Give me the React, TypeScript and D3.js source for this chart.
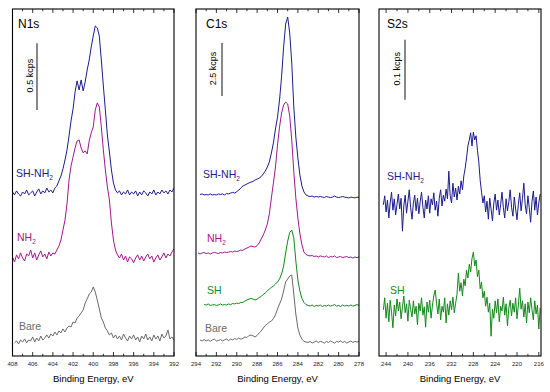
import React from "react";
import * as d3 from "d3";

// ---------- N1s (intensity in cps, 0.2 eV steps) ----------
const n1sStep = 0.2;
const n1sBlueStart = 408.0;
const n1sBlue = [
  1230, 1208, 1238, 1215, 1200, 1230, 1215, 1245, 1208, 1223,
  1238, 1200, 1230, 1253, 1215, 1238, 1223, 1260, 1230, 1245,
  1223, 1260, 1275, 1313, 1350, 1403, 1470, 1545, 1650, 1763,
  1853, 1980, 2063, 1995, 2070, 1988, 2055, 2145, 2220, 2318,
  2400, 2475, 2460, 2400, 2220, 2025, 1845, 1658, 1530, 1395,
  1298, 1245, 1223, 1238, 1208, 1230, 1215, 1245, 1208, 1230,
  1215, 1238, 1200, 1230, 1208, 1238, 1223, 1200, 1230, 1215,
  1245, 1208, 1230, 1215, 1245, 1223, 1238, 1215, 1245, 1230,
  1260,
];
const n1sMagentaStart = 408.0;
const n1sMagenta = [
  743, 705, 758, 728, 773, 735, 713, 765, 750, 795,
  735, 773, 720, 758, 788, 743, 765, 728, 780, 750,
  773, 765, 795, 825, 870, 945, 1020, 1140, 1320, 1425,
  1493, 1560, 1613, 1620, 1560, 1523, 1538, 1515, 1613, 1673,
  1718, 1845, 1898, 1868, 1718, 1545, 1395, 1268, 1170, 998,
  870, 795, 758, 735, 765, 720, 750, 705, 743, 728,
  698, 735, 758, 720, 750, 713, 743, 765, 728, 750,
  705, 735, 758, 720, 743, 773, 735, 765, 750, 780,
  803,
];
const n1sGrayStart = 407.8;
const n1sGray = [
  98, 113, 90, 120, 105, 128, 98, 120, 113, 143,
  105, 135, 113, 150, 120, 135, 158, 135, 165, 150,
  180, 158, 188, 173, 203, 180, 210, 225, 218, 255,
  248, 285, 300, 323, 345, 398, 428, 465, 480, 518,
  480, 420, 353, 285, 255, 210, 188, 158, 173, 135,
  158, 128, 150, 120, 165, 135, 113, 150, 128, 158,
  120, 143, 105, 150, 128, 165, 120, 143, 113, 158,
  128, 150, 113, 165, 135, 150, 195, 128, 143, 120,
];
const n1sDomainX = [408, 392];
const n1sDomainY = [0, 2602];
const n1sTicks = [408, 406, 404, 402, 400, 398, 396, 394, 392];
const n1sBar = 500; // 0.5 kcps
const n1sBarBase = 1845;

// ---------- C1s (intensity in kcps, 0.2 eV steps) ----------
const c1sStep = 0.2;
const c1sBlueStart = 293.6;
const c1sBlue = [
  7.63, 7.66, 7.61, 7.63, 7.61, 7.66, 7.61, 7.63, 7.61, 7.66,
  7.63, 7.66, 7.61, 7.68, 7.66, 7.70, 7.73, 7.70, 7.77, 7.84,
  7.94, 8.03, 8.08, 8.13, 8.18, 8.22, 8.25, 8.32, 8.36, 8.41,
  8.48, 8.60, 8.74, 8.93, 9.17, 9.59, 10.07, 10.73, 11.29, 12.10,
  13.19, 14.60, 15.69, 16.02, 15.26, 13.85, 11.77, 10.35, 9.36, 8.55,
  8.03, 7.75, 7.61, 7.56, 7.54, 7.56, 7.51, 7.54, 7.51, 7.54,
  7.51, 7.49, 7.54, 7.51, 7.49, 7.51, 7.56, 7.51, 7.49, 7.51,
  7.54, 7.51, 7.49, 7.47, 7.51, 7.49, 7.47, 7.51, 7.49,
];
const c1sMagentaStart = 293.8;
const c1sMagenta = [
  4.87, 4.82, 4.87, 4.89, 4.84, 4.87, 4.82, 4.87, 4.89, 4.87,
  4.84, 4.89, 4.87, 4.91, 4.89, 4.91, 4.94, 4.91, 4.96, 4.94,
  4.96, 5.01, 4.99, 5.06, 5.10, 5.15, 5.20, 5.17, 5.15, 5.22,
  5.34, 5.53, 5.72, 5.95, 6.24, 6.71, 7.47, 8.18, 8.93, 9.97,
  10.82, 11.48, 11.86, 12.00, 11.91, 11.34, 10.21, 8.70, 7.47, 6.52,
  5.77, 5.25, 4.91, 4.80, 4.75, 4.73, 4.75, 4.70, 4.73, 4.68,
  4.73, 4.70, 4.68, 4.73, 4.65, 4.70, 4.68, 4.73, 4.65, 4.68,
  4.70, 4.65, 4.68, 4.70, 4.65, 4.68, 4.63, 4.68, 4.65, 4.68,
];
const c1sGreenStart = 293.2;
const c1sGreen = [
  2.43, 2.41, 2.46, 2.39, 2.41, 2.43, 2.39, 2.41, 2.46, 2.41,
  2.43, 2.41, 2.46, 2.43, 2.48, 2.46, 2.50, 2.48, 2.53, 2.53,
  2.60, 2.65, 2.69, 2.72, 2.69, 2.65, 2.69, 2.76, 2.81, 2.91,
  2.98, 3.07, 3.17, 3.24, 3.31, 3.40, 3.50, 3.64, 3.88, 4.25,
  4.87, 5.43, 5.84, 5.95, 5.58, 4.49, 3.59, 3.07, 2.72, 2.53,
  2.43, 2.39, 2.36, 2.41, 2.34, 2.39, 2.36, 2.41, 2.34, 2.39,
  2.36, 2.41, 2.36, 2.39, 2.43, 2.36, 2.39, 2.34, 2.41, 2.36,
  2.39, 2.36, 2.41, 2.36, 2.39, 2.43, 2.39,
];
const c1sGrayStart = 293.6;
const c1sGray = [
  0.76, 0.71, 0.78, 0.71, 0.76, 0.69, 0.76, 0.80, 0.71, 0.73,
  0.78, 0.71, 0.76, 0.80, 0.73, 0.80, 0.76, 0.83, 0.78, 0.85,
  0.80, 0.83, 0.90, 0.87, 0.97, 0.99, 0.95, 0.90, 0.97, 1.09,
  1.18, 1.32, 1.44, 1.51, 1.61, 1.65, 1.77, 1.94, 2.22, 2.46,
  2.69, 3.07, 3.50, 3.64, 3.78, 3.83, 2.93, 1.98, 1.32, 0.99,
  0.80, 0.69, 0.66, 0.64, 0.69, 0.61, 0.66, 0.71, 0.64, 0.69,
  0.66, 0.61, 0.69, 0.64, 0.71, 0.66, 0.61, 0.69, 0.66, 0.71,
  0.64, 0.69, 0.61, 0.66, 0.71, 0.64, 0.69, 0.66, 0.69,
];
const c1sDomainX = [294, 278];
const c1sDomainY = [0, 16.4];
const c1sTicks = [294, 292, 290, 288, 286, 284, 282, 280, 278];
const c1sBar = 2.5; // 2.5 kcps
const c1sBarBase = 12.29;

// ---------- S2s (intensity in cps, 0.25 eV steps) ----------
const s2sStep = 0.25;
const s2sBlueStart = 244.5;
const s2sBlue = [
  252, 267, 240, 260, 230, 255, 273, 243, 262, 235,
  253, 270, 245, 263, 208, 250, 268, 238, 258, 277,
  247, 228, 255, 268, 242, 263, 237, 257, 273, 248,
  230, 260, 245, 267, 238, 262, 252, 272, 243, 258,
  233, 263, 277, 250, 268, 258, 278, 262, 308, 267,
  255, 288, 265, 280, 260, 283, 270, 292, 277, 300,
  313, 330, 350, 360, 372, 350, 373, 360, 367, 343,
  323, 293, 273, 255, 267, 240, 258, 228, 263, 245,
  225, 255, 270, 243, 260, 235, 252, 273, 247, 230,
  262, 242, 257, 277, 248, 233, 265, 245, 227, 253,
  272, 242, 262, 288, 252, 237, 267, 247, 223, 258,
  275, 243, 265, 235, 255, 270,
];
const s2sGreenStart = 244.5;
const s2sGreen = [
  77, 97, 63, 88, 57, 93, 73, 47, 85, 67,
  95, 75, 90, 62, 82, 100, 72, 87, 58, 93,
  78, 65, 92, 70, 83, 52, 88, 75, 97, 68,
  82, 48, 90, 73, 93, 63, 85, 100, 110, 88,
  70, 95, 60, 83, 73, 97, 55, 87, 68, 92,
  77, 98, 72, 88, 103, 138, 108, 122, 100, 128,
  117, 143, 130, 153, 140, 163, 173, 150, 160, 132,
  143, 112, 123, 97, 108, 83, 98, 73, 88, 33,
  78, 63, 92, 72, 95, 57, 83, 75, 98, 68,
  87, 50, 80, 93, 67, 88, 73, 97, 62, 85,
  113, 78, 92, 65, 87, 55, 90, 72, 97, 77,
  60, 92, 70, 85, 45, 80,
];
const s2sDomainX = [245.3, 215.6];
const s2sDomainY = [0, 578.3];
const s2sTicks = [244, 240, 236, 232, 228, 224, 220, 216];
const s2sBar = 100; // 0.1 kcps
const s2sBarBase = 427;

// ---------- styling ----------
const BLUE = "#1c1c8e";
const MAGENTA = "#a0178f";
const GREEN = "#13891a";
const GRAY = "#6a6a6a";
const FONT = "'Liberation Sans', Arial, Helvetica, sans-serif";
const TOP = 9;
const BOTTOM = 356;

type Series = { start: number; step: number; values: number[]; color: string };
type Label = { text: string; sub?: string; color: string; x: number; y: number };

function toPoints(s: Series): [number, number][] {
  return s.values.map((v, i) => [s.start - i * s.step, v]);
}

function Panel(props: {
  x0: number;
  x1: number;
  domainX: number[];
  domainY: number[];
  ticks: number[];
  minorStep: number;
  series: Series[];
  title: string;
  titleX: number;
  barX: number;
  barBase: number;
  barLen: number;
  barText: string;
  barTextX: number;
  labels: Label[];
}) {
  const { x0, x1, domainX, domainY, ticks, minorStep, series } = props;
  const xs = d3.scaleLinear().domain(domainX).range([x0, x1]);
  const ys = d3.scaleLinear().domain(domainY).range([BOTTOM, TOP]);
  const line = d3
    .line<[number, number]>()
    .x((d) => xs(d[0]))
    .y((d) => ys(d[1]));
  const hi = Math.max(domainX[0], domainX[1]);
  const lo = Math.min(domainX[0], domainX[1]);
  const first = ticks[ticks.length - 1];
  const minors = d3
    .range(Math.ceil((lo - first) / minorStep) * minorStep + first, hi + 1e-6, minorStep)
    .filter((v) => !ticks.some((t) => Math.abs(t - v) < 1e-6));
  const barTop = ys(props.barBase + props.barLen);
  const barBot = ys(props.barBase);
  return (
    <g>
      <defs>
        <clipPath id={"clip" + props.title}>
          <rect x={x0} y={TOP} width={x1 - x0} height={BOTTOM - TOP} />
        </clipPath>
      </defs>
      <g clipPath={`url(#clip${props.title})`}>
        {series.map((s, i) => (
          <path
            key={i}
            d={line(toPoints(s)) || ""}
            fill="none"
            stroke={s.color}
            strokeWidth={1}
            strokeLinejoin="round"
          />
        ))}
      </g>
      {ticks.map((t) => (
        <g key={"M" + t}>
          <line x1={xs(t)} x2={xs(t)} y1={BOTTOM} y2={BOTTOM - 4} stroke="#000" strokeWidth={0.8} />
          <line x1={xs(t)} x2={xs(t)} y1={TOP} y2={TOP + 4} stroke="#000" strokeWidth={0.8} />
          <text
            x={xs(t)}
            y={365.5}
            fontSize={6}
            textAnchor="middle"
            fontFamily={FONT}
            fill="#222"
          >
            {t}
          </text>
        </g>
      ))}
      {minors.map((t) => (
        <g key={"m" + t}>
          <line x1={xs(t)} x2={xs(t)} y1={BOTTOM} y2={BOTTOM - 2.2} stroke="#000" strokeWidth={0.8} />
          <line x1={xs(t)} x2={xs(t)} y1={TOP} y2={TOP + 2.2} stroke="#000" strokeWidth={0.8} />
        </g>
      ))}
      <rect
        x={x0}
        y={TOP}
        width={x1 - x0}
        height={BOTTOM - TOP}
        fill="none"
        stroke="#000"
        strokeWidth={1.1}
      />
      <text x={props.titleX} y={28} fontSize={12} fontFamily={FONT} fill="#000">
        {props.title}
      </text>
      <line x1={props.barX} x2={props.barX} y1={barTop} y2={barBot} stroke="#555" strokeWidth={1.4} />
      <text
        transform={`translate(${props.barTextX},${(barTop + barBot) / 2 - 1}) rotate(-90)`}
        fontSize={9}
        textAnchor="middle"
        fontFamily={FONT}
        fill="#000"
      >
        {props.barText}
      </text>
      {props.labels.map((l, i) => (
        <text key={i} x={l.x} y={l.y} fontSize={10.5} fontFamily={FONT} fill={l.color}>
          {l.text}
          {l.sub ? (
            <tspan fontSize={6.5} dy={3}>
              {l.sub}
            </tspan>
          ) : null}
        </text>
      ))}
      <text
        x={(x0 + x1) / 2}
        y={382}
        fontSize={9.5}
        textAnchor="middle"
        fontFamily={FONT}
        fill="#000"
      >
        Binding Energy, eV
      </text>
    </g>
  );
}

export default function App() {
  return (
    <svg
      width={550}
      height={392}
      style={{ position: "absolute", left: 0, top: 0, background: "#fff" }}
    >
      <rect x={0} y={0} width={550} height={392} fill="#fff" />
      <Panel
        x0={12.5}
        x1={174}
        domainX={n1sDomainX}
        domainY={n1sDomainY}
        ticks={n1sTicks}
        minorStep={1}
        series={[
          { start: n1sBlueStart, step: n1sStep, values: n1sBlue, color: BLUE },
          { start: n1sMagentaStart, step: n1sStep, values: n1sMagenta, color: MAGENTA },
          { start: n1sGrayStart, step: n1sStep, values: n1sGray, color: GRAY },
        ]}
        title="N1s"
        titleX={18}
        barX={37}
        barBase={n1sBarBase}
        barLen={n1sBar}
        barText="0.5 kcps"
        barTextX={32.5}
        labels={[
          { text: "SH-NH", sub: "2", color: BLUE, x: 16, y: 177 },
          { text: "NH", sub: "2", color: MAGENTA, x: 17, y: 241 },
          { text: "Bare", color: GRAY, x: 19, y: 330 },
        ]}
      />
      <Panel
        x0={196}
        x1={359}
        domainX={c1sDomainX}
        domainY={c1sDomainY}
        ticks={c1sTicks}
        minorStep={1}
        series={[
          { start: c1sBlueStart, step: c1sStep, values: c1sBlue, color: BLUE },
          { start: c1sMagentaStart, step: c1sStep, values: c1sMagenta, color: MAGENTA },
          { start: c1sGreenStart, step: c1sStep, values: c1sGreen, color: GREEN },
          { start: c1sGrayStart, step: c1sStep, values: c1sGray, color: GRAY },
        ]}
        title="C1s"
        titleX={206}
        barX={222}
        barBase={c1sBarBase}
        barLen={c1sBar}
        barText="2.5 kcps"
        barTextX={215.5}
        labels={[
          { text: "SH-NH", sub: "2", color: BLUE, x: 203, y: 178 },
          { text: "NH", sub: "2", color: MAGENTA, x: 207, y: 242 },
          { text: "SH", color: GREEN, x: 207, y: 294 },
          { text: "Bare", color: GRAY, x: 205, y: 332 },
        ]}
      />
      <Panel
        x0={379}
        x1={541}
        domainX={s2sDomainX}
        domainY={s2sDomainY}
        ticks={s2sTicks}
        minorStep={2}
        series={[
          { start: s2sBlueStart, step: s2sStep, values: s2sBlue, color: BLUE },
          { start: s2sGreenStart, step: s2sStep, values: s2sGreen, color: GREEN },
        ]}
        title="S2s"
        titleX={387}
        barX={405}
        barBase={s2sBarBase}
        barLen={s2sBar}
        barText="0.1 kcps"
        barTextX={399.5}
        labels={[
          { text: "SH-NH", sub: "2", color: BLUE, x: 387, y: 180 },
          { text: "SH", color: GREEN, x: 390, y: 294 },
        ]}
      />
    </svg>
  );
}
